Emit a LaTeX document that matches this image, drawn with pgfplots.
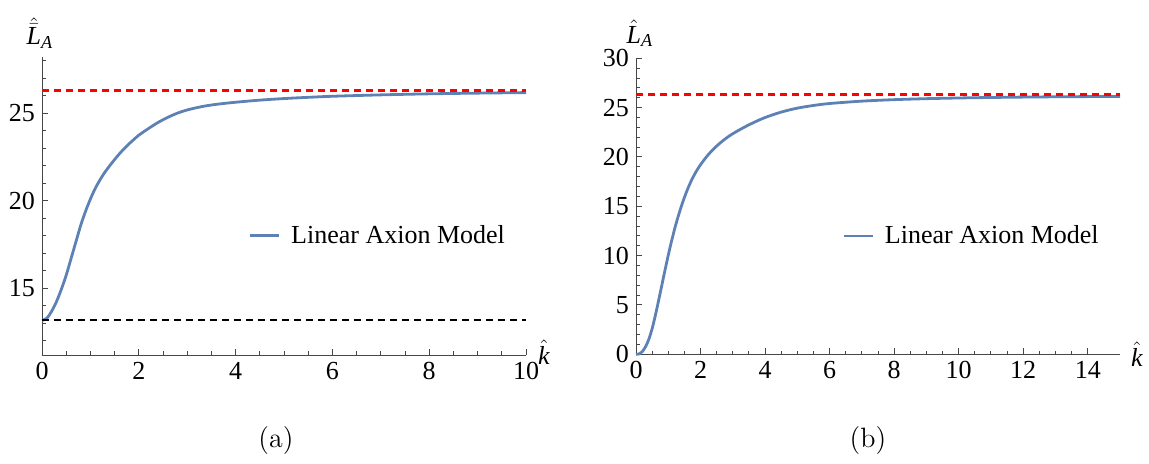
\documentclass[border=0pt]{standalone}
\usepackage{fontspec}
\setmainfont{Liberation Serif}
\newfontfamily\lmr{Latin Modern Roman}
\usepackage{amsmath}
\usepackage{pgfplots}
\pgfplotsset{compat=1.18}
\definecolor{mblue}{RGB}{94,129,181}
\definecolor{axgray}{RGB}{70,70,70}
\pgfplotsset{mstyle/.style={
  scale only axis, width=242pt,
  axis lines=left, axis line style={-, color=axgray, line width=0.5pt},
  tick style={color=axgray, line width=0.5pt},
  tick align=inside,
  major tick length=3pt, minor tick length=1.8pt,
  ticklabel style={font=\fontsize{13}{15}\selectfont},
  /pgf/number format/assume math mode=true,
  clip=false,
  legend style={draw=none, fill=none, font=\fontsize{13}{15}\selectfont, anchor=west, inner sep=0pt},
  legend image code/.code={\draw[#1] (0pt,0pt) -- (14.5pt,0pt);},
}}
\pgfplotstableread{
k L
0 13.17
0.1 13.3
0.2 13.7
0.3 14.25
0.4 14.95
0.5 15.75
0.6 16.7
0.7 17.65
0.8 18.6
0.9 19.4
1.0 20.1
1.1 20.7
1.2 21.2
1.3 21.63
1.4 22.0
1.5 22.35
1.6 22.68
1.7 22.98
1.8 23.25
1.9 23.5
2.0 23.74
2.2 24.12
2.4 24.47
2.6 24.76
2.8 25.0
3.0 25.18
3.3 25.37
3.6 25.5
4.0 25.62
4.5 25.74
5.0 25.83
5.5 25.9
6.0 25.96
7.0 26.04
8.0 26.1
9.0 26.14
10 26.17
}\lefttab
\pgfplotstableread{
k L
0 0
0.1 0.05
0.2 0.3
0.3 0.8
0.4 1.55
0.5 2.6
0.6 3.95
0.7 5.45
0.8 7.0
0.9 8.55
1.0 10.05
1.1 11.45
1.2 12.75
1.3 13.9
1.4 14.95
1.5 15.9
1.6 16.75
1.7 17.5
1.8 18.15
1.9 18.72
2.0 19.22
2.2 20.08
2.4 20.8
2.6 21.4
2.8 21.92
3.0 22.36
3.3 22.92
3.6 23.42
4.0 24.0
4.5 24.55
5.0 24.95
5.5 25.22
6.0 25.42
7.0 25.66
8.0 25.81
9.0 25.91
10 25.98
11 26.03
12 26.07
13 26.1
14 26.12
15 26.14
}\righttab
\begin{document}
\begin{tikzpicture}
\useasboundingbox (0,0) rectangle (574.5pt,-231.5pt);
\begin{axis}[mstyle, at={(21pt,-177.5pt)}, anchor=south west,
  height=149pt, xmin=0, xmax=10, ymin=11.2, ymax=28.2,
  xtick={0,2,4,6,8,10}, minor x tick num=3,
  ytick={15,20,25}, minor ytick={12,13,14,16,17,18,19,21,22,23,24,26,27,28},
  legend style={at={(0.4256,0.40)}}]
\addplot[mblue, line width=1.4pt, smooth] table[x=k,y=L]{\lefttab};
\addlegendentry{\hspace{3.5pt}Linear Axion Model}
\addplot[red, line width=1.5pt, dash pattern=on 3.6pt off 2.4pt, forget plot] coordinates {(0,26.3) (10,26.3)};
\addplot[black, line width=1.1pt, dash pattern=on 3.6pt off 2.4pt, forget plot] coordinates {(0,13.2) (10,13.2)};
\node at (rel axis cs:1,0) [xshift=9pt, yshift=1.5pt, font=\fontsize{13}{15}\selectfont] {$\hat{\textit{k}}$};
\node at (rel axis cs:0,1) [xshift=-1pt, yshift=12pt, font=\fontsize{13}{15}\selectfont] {$\hat{\bar{\textit{L}}}_{\textit{A}}$};
\end{axis}
\begin{axis}[mstyle, at={(318pt,-177.15pt)}, anchor=south west,
  height=148pt, xmin=0, xmax=15, ymin=0, ymax=30,
  xtick={0,2,4,6,8,10,12,14}, minor x tick num=3,
  ytick={0,5,10,15,20,25,30}, minor y tick num=4,
  legend style={at={(0.425,0.40)}}]
\addplot[mblue, line width=1.4pt, smooth] table[x=k,y=L]{\righttab};
\addlegendentry{\hspace{3.5pt}Linear Axion Model}
\addplot[red, line width=1.5pt, dash pattern=on 3.6pt off 2.4pt, forget plot] coordinates {(0,26.3) (15,26.3)};
\node at (rel axis cs:1,0) [xshift=8.5pt, yshift=0pt, font=\fontsize{13}{15}\selectfont] {$\hat{\textit{k}}$};
\node at (rel axis cs:0,1) [xshift=2pt, yshift=12.5pt, font=\fontsize{13}{15}\selectfont] {$\hat{\textit{L}}_{\textit{A}}$};
\end{axis}
\node[font=\lmr\fontsize{14}{16}\selectfont] at (138pt,-220pt) {(a)};
\node[font=\lmr\fontsize{14}{16}\selectfont] at (434pt,-220pt) {(b)};
\end{tikzpicture}
\end{document}
